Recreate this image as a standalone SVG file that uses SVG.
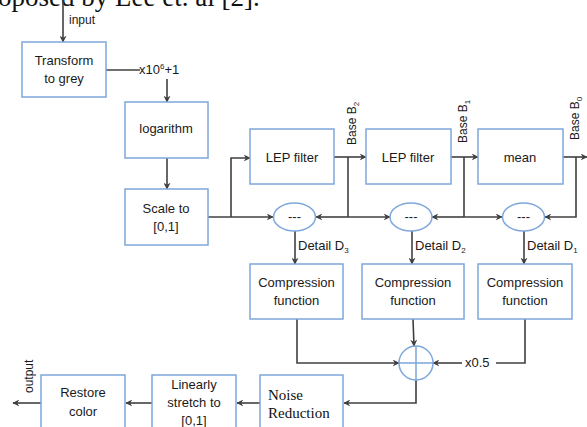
<svg xmlns="http://www.w3.org/2000/svg" width="587" height="427" viewBox="0 0 587 427">
<style>
.box{fill:#fff;stroke:#7ea7dc;stroke-width:1.5}
.c{fill:none;stroke:#404040;stroke-width:1.6}
.t{font-family:"Liberation Sans",Arial,sans-serif;font-size:13px;fill:#1a1a1a}
.tm{text-anchor:middle}
.s{font-family:"Liberation Sans",Arial,sans-serif;font-size:12px;fill:#1a1a1a}
.serif{font-family:"Liberation Serif","Times New Roman",serif;font-size:15px;fill:#111}
</style>
<defs>
<marker id="a" viewBox="0 0 10 10" refX="9" refY="5" markerWidth="7" markerHeight="7" markerUnits="userSpaceOnUse" orient="auto">
<path d="M0,0 L10,5 L0,10 L3,5 z" fill="#404040"/>
</marker>
</defs>
<text x="-2" y="6" font-family="'Liberation Serif','Times New Roman',serif" font-size="27" fill="#111">oposed by Lee et. al [2].</text>
<g id="connectors">
<path class="c" d="M63,0 V42" marker-end="url(#a)"/>
<path class="c" d="M106,70 H140"/>
<path class="c" d="M167,79 V102" marker-end="url(#a)"/>
<path class="c" d="M167,158 V189" marker-end="url(#a)"/>
<path class="c" d="M208,217 H273" marker-end="url(#a)"/>
<path class="c" d="M231,217 V158 H250" marker-end="url(#a)"/>
<path class="c" d="M334,157 H366" marker-end="url(#a)"/>
<path class="c" d="M348,157 V217"/>
<path class="c" d="M348,217 H316" marker-end="url(#a)"/>
<path class="c" d="M348,217 H390" marker-end="url(#a)"/>
<path class="c" d="M451,157 H478" marker-end="url(#a)"/>
<path class="c" d="M464,157 V217"/>
<path class="c" d="M464,217 H432" marker-end="url(#a)"/>
<path class="c" d="M464,217 H502" marker-end="url(#a)"/>
<path class="c" d="M563,157 H587" marker-end="url(#a)"/>
<path class="c" d="M576,157 V217 H545" marker-end="url(#a)"/>
<path class="c" d="M295,231 V264" marker-end="url(#a)"/>
<path class="c" d="M412,231 V264" marker-end="url(#a)"/>
<path class="c" d="M524,231 V264" marker-end="url(#a)"/>
<path class="c" d="M297,319 V363 H399" marker-end="url(#a)"/>
<path class="c" d="M413,319 L414,346" marker-end="url(#a)"/>
<path class="c" d="M525,319 V363 H496"/>
<path class="c" d="M462,363 H433" marker-end="url(#a)"/>
<path class="c" d="M416,380 V403 H344" marker-end="url(#a)"/>
<path class="c" d="M260,403 H237" marker-end="url(#a)"/>
<path class="c" d="M152,403 H126" marker-end="url(#a)"/>
<path class="c" d="M41,403 H13" marker-end="url(#a)"/>
<text class="s" x="69" y="24">input</text>
<text class="t" x="139" y="74">x10<tspan font-size="8" dy="-5">6</tspan><tspan dy="5">+1</tspan></text>
<text class="s" transform="translate(356,145) rotate(-90)">Base B<tspan font-size="8" dy="3">2</tspan></text>
<text class="s" transform="translate(467,143) rotate(-90)">Base B<tspan font-size="8" dy="3">1</tspan></text>
<text class="s" transform="translate(579,140) rotate(-90)">Base B<tspan font-size="8" dy="3">0</tspan></text>
<text class="t" x="298" y="250">Detail D<tspan font-size="8" dy="3">3</tspan></text>
<text class="t" x="415" y="250">Detail D<tspan font-size="8" dy="3">2</tspan></text>
<text class="t" x="527" y="250">Detail D<tspan font-size="8" dy="3">1</tspan></text>
<text class="t" x="465" y="367">x0.5</text>
<text class="s" transform="translate(33,393) rotate(-90)">output</text>
</g>
<g id="transform"><rect class="box" x="22" y="42" width="84" height="55"/><text class="t tm" x="64" y="65">Transform</text><text class="t tm" x="64" y="83">to grey</text></g>
<g id="logarithm"><rect class="box" x="125" y="102" width="83" height="56"/><text class="t tm" x="166" y="133">logarithm</text></g>
<g id="scale"><rect class="box" x="125" y="189" width="83" height="56"/><text class="t tm" x="166" y="213">Scale to</text><text class="t tm" x="166" y="231">[0,1]</text></g>
<g id="lep1"><rect class="box" x="250" y="129" width="84" height="55"/><text class="t tm" x="292" y="162">LEP filter</text></g>
<g id="lep2"><rect class="box" x="366" y="129" width="85" height="55"/><text class="t tm" x="408" y="162">LEP filter</text></g>
<g id="mean"><rect class="box" x="478" y="129" width="85" height="55"/><text class="t tm" x="520" y="162">mean</text></g>
<g id="sub1"><ellipse class="box" cx="294.5" cy="217" rx="21" ry="14"/><text class="t tm" x="294.5" y="221">---</text></g>
<g id="sub2"><ellipse class="box" cx="411" cy="217" rx="21" ry="14"/><text class="t tm" x="411" y="221">---</text></g>
<g id="sub3"><ellipse class="box" cx="523.5" cy="217" rx="21" ry="14"/><text class="t tm" x="523.5" y="221">---</text></g>
<g id="comp1"><rect class="box" x="250" y="264" width="93" height="55"/><text class="t tm" x="296.5" y="287">Compression</text><text class="t tm" x="296.5" y="305">function</text></g>
<g id="comp2"><rect class="box" x="362" y="264" width="102" height="55"/><text class="t tm" x="413" y="287">Compression</text><text class="t tm" x="413" y="305">function</text></g>
<g id="comp3"><rect class="box" x="478" y="264" width="94" height="55"/><text class="t tm" x="525" y="287">Compression</text><text class="t tm" x="525" y="305">function</text></g>
<g id="sum"><circle class="box" cx="416" cy="363" r="17"/><path d="M399,363 H433 M416,346 V380" stroke="#7ea7dc" stroke-width="1.5"/></g>
<g id="noise"><rect class="box" x="260" y="375" width="83" height="60"/><text class="serif" x="268" y="400">Noise</text><text class="serif" x="268" y="418">Reduction</text></g>
<g id="linear"><rect class="box" x="152" y="375" width="84" height="60"/><text class="t tm" x="194" y="389">Linearly</text><text class="t tm" x="194" y="407">stretch to</text><text class="t tm" x="194" y="425">[0,1]</text></g>
<g id="restore"><rect class="box" x="41" y="375" width="84" height="60"/><text class="t tm" x="83" y="397">Restore</text><text class="t tm" x="83" y="416">color</text></g>
</svg>
